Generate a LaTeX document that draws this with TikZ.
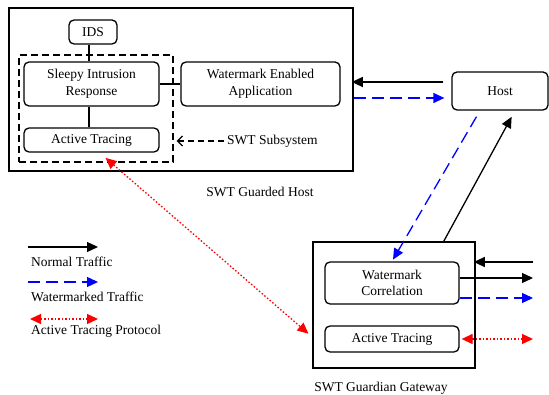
\documentclass[tikz,border=0pt]{standalone}
\usepackage{fontspec}
\setmainfont{Liberation Serif}
\usetikzlibrary{arrows.meta}

\begin{document}
\begin{tikzpicture}[x=1pt, y=-1pt, font=\fontsize{13.5}{16.5}\selectfont]
  % Define styles
  \tikzstyle{unit} = [rectangle, rounded corners=5pt, draw=black, line width=1.3pt,
                      align=center, inner sep=0pt]
  \tikzstyle{frame} = [rectangle, draw=black, line width=1.6pt, inner sep=0pt]
  \tikzstyle{normal} = [line width=1.3pt, -{Triangle[length=11pt, width=10pt]}]
  \tikzstyle{marked} = [blue, line width=1.3pt, dash pattern=on 12pt off 6pt,
                        -{Triangle[length=11pt, width=10pt]}]
  \tikzstyle{tracing} = [red, line width=1.3pt, dash pattern=on 1.5pt off 2pt,
                         {Triangle[length=11pt, width=10pt]}-{Triangle[length=11pt, width=10pt]}]
  \useasboundingbox (0,0) rectangle (549,395);

  % Guarded host
  \node (guarded) [frame, minimum width=344pt, minimum height=163pt] at (181,89.5) {};
  \node (subsys) [rectangle, draw=black, line width=1.3pt, dash pattern=on 7pt off 4pt,
                  minimum width=154pt, minimum height=107pt] at (96,108.5) {};
  \node (ids) [unit, minimum width=48pt, minimum height=24pt] at (93,32) {IDS};
  \node (sleepy) [unit, minimum width=135pt, minimum height=44pt] at (91.5,84)
        {Sleepy Intrusion\\Response};
  \node (wea) [unit, minimum width=159pt, minimum height=44pt] at (260.5,84)
        {Watermark Enabled\\Application};
  \node (trace) [unit, minimum width=135pt, minimum height=24pt] at (91.5,140) {Active Tracing};
  \node (subsyslabel) [anchor=west, inner sep=0pt] at (227,141) {SWT Subsystem};
  \node (guardedlabel) at (260,192) {SWT Guarded Host};

  % Outside host
  \node (host) [unit, minimum width=96pt, minimum height=38pt] at (500,91) {Host};

  % Guardian gateway
  \node (gateway) [frame, minimum width=162pt, minimum height=126pt] at (394,305) {};
  \node (corr) [unit, minimum width=134pt, minimum height=42pt] at (392,283)
        {Watermark\\Correlation};
  \node (gwtrace) [unit, minimum width=134pt, minimum height=26pt] at (392,339) {Active Tracing};
  \node (gatewaylabel) at (381,388) {SWT Guardian Gateway};

  % Free ends
  \coordinate (inleft) at (533,262);
  \coordinate (outblack) at (533,278);
  \coordinate (outblue) at (533,298);
  \coordinate (outred) at (533,339);

  % Links inside the host
  \draw [line width=1.3pt] (ids.south -| 89,0) -- (sleepy.north -| 89,0);
  \draw [line width=1.3pt] (sleepy) -- (wea);
  \draw [line width=1.3pt] (sleepy.south -| 89,0) -- (trace.north -| 89,0);
  \draw [line width=1.3pt, dash pattern=on 6pt off 4pt, -{Straight Barb[length=5pt, width=10pt]}]
        (subsyslabel.west) ++(-3,0) -- ([xshift=3pt]subsyslabel.west -| subsys.east);

  % Traffic
  \draw [normal, shorten <=8pt, shorten >=-2pt] ([yshift=9pt]host.west) -- ([yshift=9pt]host.west -| guarded.east);
  \draw [marked, shorten >=7pt] ([yshift=-7pt]host.west -| guarded.east) -- ([yshift=-7pt]host.west);
  \draw [marked, shorten <=7pt, shorten >=2pt] ([xshift=-20pt]host.south) -- (corr.north);
  \draw [normal, shorten >=7pt] ([xshift=-32pt]gateway.north east) -- ([xshift=15pt]host.south);
  \draw [tracing, shorten <=8pt, shorten >=5pt] ([xshift=8pt]trace.south) -- ([yshift=-32pt]gateway.west);
  \draw [normal, shorten >=-2pt] (inleft) -- (inleft -| gateway.east);
  \draw [normal] ([yshift=5pt]corr.east) -- (outblack);
  \draw [marked] ([yshift=-15pt]corr.east) -- (outblue);
  \draw [tracing, shorten <=2pt] (gwtrace.east) -- (outred);

  % Legend
  \coordinate (lgnormal) at (28,247);
  \coordinate (lgmarked) at (28,282);
  \coordinate (lgtrace) at (30,319);
  \draw [normal] (lgnormal) -- ++(70,0);
  \draw [marked] (lgmarked) -- ++(70,0);
  \draw [tracing] (lgtrace) -- ++(68,0);
  \node (lgnormaltext) [anchor=west, inner sep=0pt] at (31,262) {Normal Traffic};
  \node (lgmarkedtext) [anchor=west, inner sep=0pt] at (31,297) {Watermarked Traffic};
  \node (lgtracetext) [anchor=west, inner sep=0pt] at (31,331) {Active Tracing Protocol};
\end{tikzpicture}
\end{document}
